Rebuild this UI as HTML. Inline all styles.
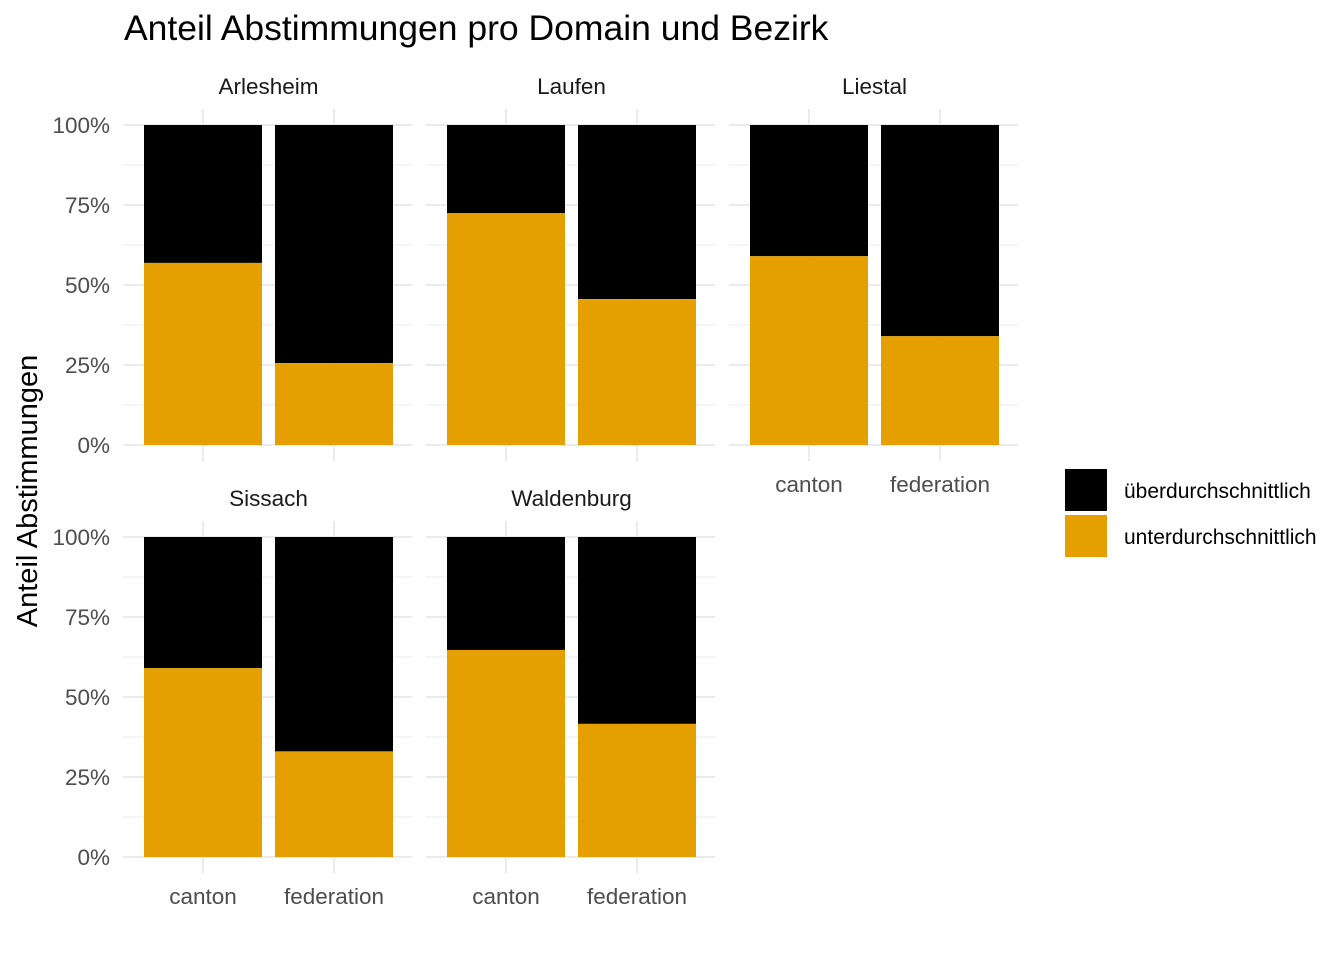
<!DOCTYPE html>
<html><head><meta charset="utf-8"><style>
body{margin:0;background:#fff;}
svg{display:block;font-family:"Liberation Sans",sans-serif;}
</style></head><body>
<svg id="chart" width="1344" height="960">
<text x="124" y="40" font-size="35.5" fill="#000">Anteil Abstimmungen pro Domain und Bezirk</text>
<text transform="translate(37,491) rotate(-90)" text-anchor="middle" font-size="29" fill="#000">Anteil Abstimmungen</text>
<g id="panels"></g>
<g>
<rect x="1065" y="469" width="42" height="42" fill="#000"></rect>
<text x="1124" y="498" font-size="21" fill="#000">überdurchschnittlich</text>
<rect x="1065" y="515" width="42" height="42" fill="#E69F00"></rect>
<text x="1124" y="544" font-size="21" fill="#000">unterdurchschnittlich</text>
</g>
</svg>
<script>
const districts = ["Arlesheim","Laufen","Liestal","Sissach","Waldenburg"];
const categories = ["canton","federation"];
const unterValues = [[0.569,0.256],[0.725,0.456],[0.59,0.34],[0.59,0.33],[0.647,0.416]];
const yTicks = [0,0.25,0.5,0.75,1];
const yTickLabels = ["0%","25%","50%","75%","100%"];

const NS="http://www.w3.org/2000/svg";
const g=document.getElementById("panels");
function mk(t,a){const e=document.createElementNS(NS,t);for(const k in a)e.setAttribute(k,a[k]);return e;}
const panelW=289, panelStep=303, barW=118;
districts.forEach((d,i)=>{
  const col=i%3,row=Math.floor(i/3);
  const x0=123+col*panelStep;
  const yTop=row===0?125:537, yBot=row===0?445:857;
  const ys=v=>yBot-(yBot-yTop)*v;
  const xc=j=>x0+80+j*131;
  const pg=mk("g",{});
  
  
  g.appendChild(pg);
  for(let k=0;k<=8;k++){
    const v=k/8;
    const ln=mk("line",{x1:x0,x2:x0+panelW,y1:ys(v),y2:ys(v),stroke:"#ebebeb","stroke-width":k%2?1.1:2.1});
    
    
    pg.appendChild(ln);
  }
  categories.forEach((c,j)=>{
    const ln=mk("line",{x1:xc(j),x2:xc(j),y1:yTop-16,y2:yBot+16,stroke:"#ebebeb","stroke-width":2.1});
    
    
    pg.appendChild(ln);
  });
  categories.forEach((c,j)=>{
    const v=unterValues[i][j];
    const b1=mk("rect",{x:xc(j)-barW/2,width:barW,y:yTop,height:ys(v)-yTop,fill:"#000"});
    
    
    pg.appendChild(b1);
    const b2=mk("rect",{x:xc(j)-barW/2,width:barW,y:ys(v),height:yBot-ys(v),fill:"#E69F00"});
    
    
    pg.appendChild(b2);
  });
  const st=mk("text",{x:x0+panelW/2+1,y:yTop-31,"text-anchor":"middle","font-size":"22.5",fill:"#1a1a1a"});
  st.textContent=d;
  
  
  pg.appendChild(st);
  if(col===0){
    yTicks.forEach((v,k)=>{
      const t=mk("text",{x:110,y:ys(v)+8,"text-anchor":"end","font-size":"22.5",fill:"#4d4d4d"});
      t.textContent=yTickLabels[k];
      
      
      pg.appendChild(t);
    });
  }
  if(row===1||i===2){
    categories.forEach((c,j)=>{
      const t=mk("text",{x:xc(j),y:yBot+47,"text-anchor":"middle","font-size":"22.5",fill:"#4d4d4d"});
      t.textContent=c;
      
      
      pg.appendChild(t);
    });
  }
});
</script>
</body></html>
